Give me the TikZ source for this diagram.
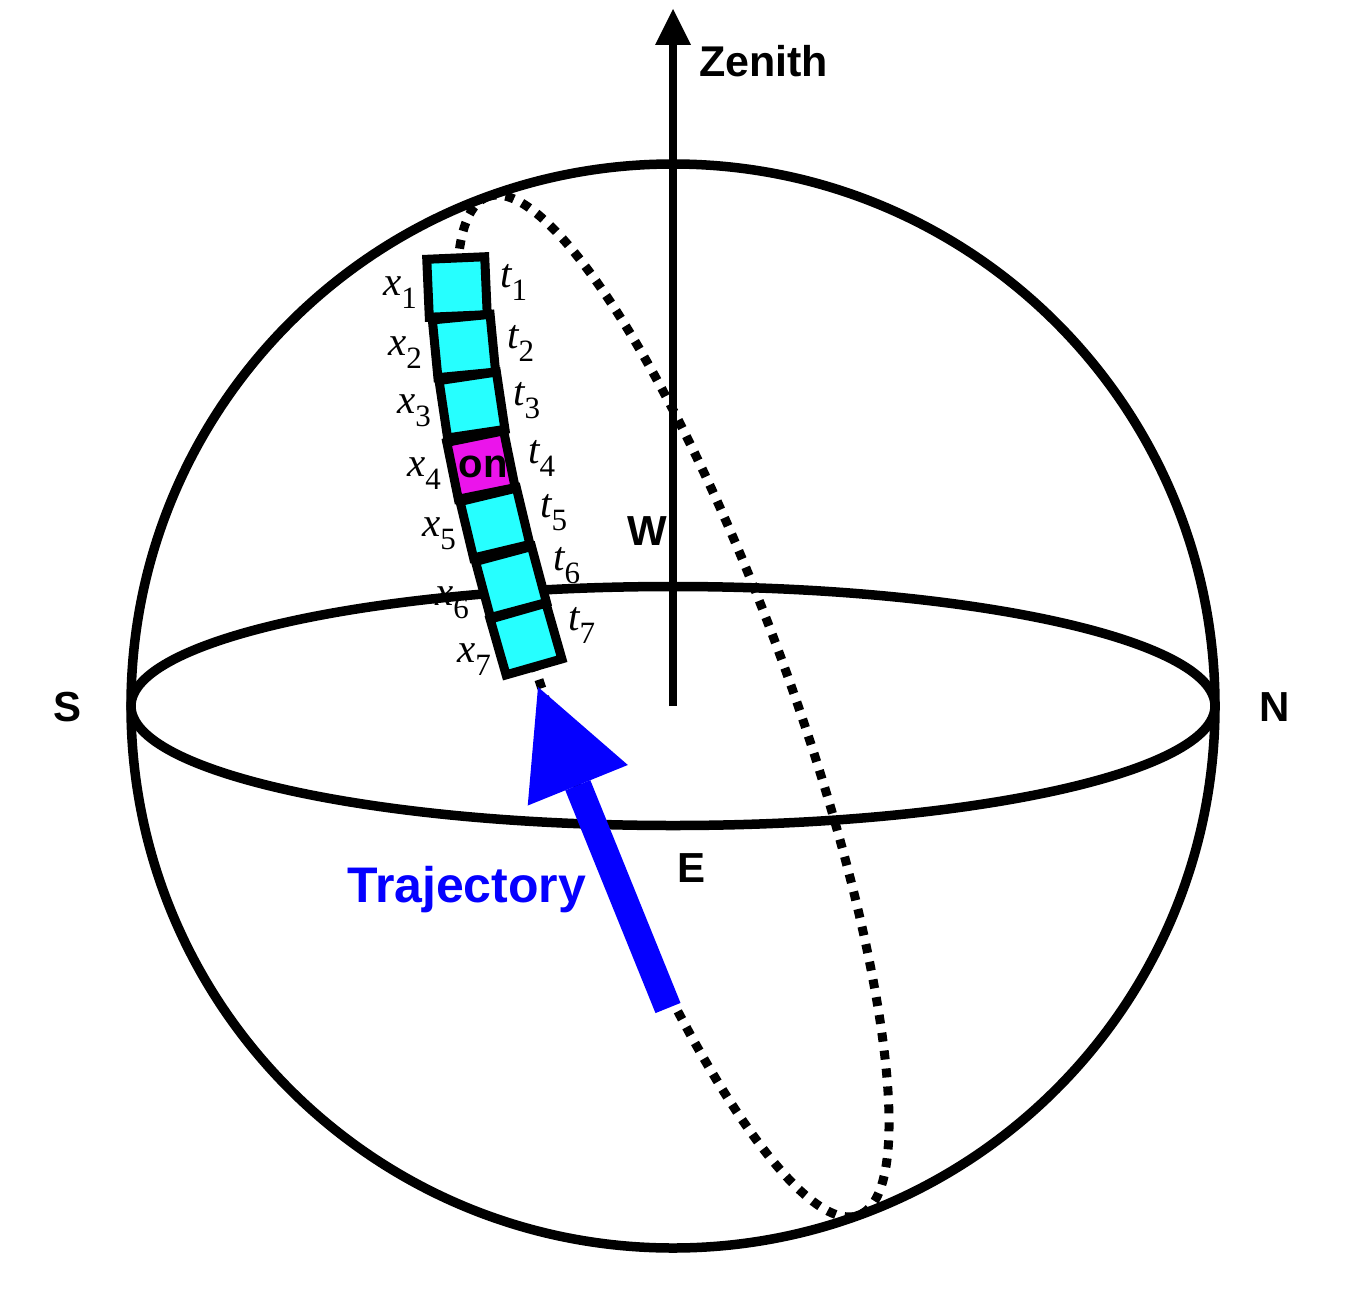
\documentclass[tikz,border=0pt]{standalone}
\usepackage{fontspec}
\setmainfont{Liberation Serif}
\setsansfont{Liberation Sans}
\usetikzlibrary{arrows.meta}
\definecolor{boxcyan}{RGB}{38,255,255}
\definecolor{boxmag}{RGB}{235,20,235}
\definecolor{trajblue}{RGB}{5,0,255}
\newcommand\mysub[2]{#1\raisebox{-13pt}{\fontsize{31}{31}\selectfont\upshape #2}}
\begin{document}
\begin{tikzpicture}[x=1pt,y=-1pt,
  thickline/.style={line width=9.5pt},
  dots/.style={line width=9pt, dash pattern=on 9pt off 9pt},
  cell/.style={draw, line width=9pt, minimum width=58pt, minimum height=58pt, inner sep=0pt, fill=boxcyan},
  lab/.style={font=\fontsize{41}{41}\selectfont\itshape, inner sep=0pt, anchor=base west},
  dir/.style={font=\fontsize{42}{42}\selectfont\sffamily\bfseries, inner sep=0pt},
]
\useasboundingbox (0,0) rectangle (1354,1290);
\coordinate (C) at (673,706);
% sphere and equator
\draw[thickline] (C) circle (542);
\draw[thickline] (C) ellipse (542 and 119.5);
% tilted great circle (dotted)
\begin{scope}[shift={(C)}, rotate=110]
  \draw[dots] (0,0) ellipse (542 and 118);
\end{scope}
% zenith
\coordinate (Ztip) at (673,9);
\draw[line width=8.5pt, -{Triangle[width=36pt,length=36pt,line width=0pt]}] (C) -- (Ztip);
\node[dir, anchor=base west, font=\fontsize{43}{43}\selectfont\sffamily\bfseries] (zlab) at (699,77) {Zenith};
% cells
\node[cell, rotate=2.5]  (b1) at (457,287) {};
\node[cell, rotate=5.5]  (b2) at (464,346) {};
\node[cell, rotate=8.5]  (b3) at (472,405) {};
\node[cell, rotate=11.5, fill=boxmag] (b4) at (481,465) {};
\node[cell, rotate=13.5] (b5) at (495,523) {};
\node[cell, rotate=15]   (b6) at (511,582) {};
\node[cell, rotate=16]   (b7) at (526,639) {};
\node[font=\fontsize{40}{40}\selectfont\sffamily\bfseries, inner sep=0pt] (ontext) at (483,467) {on};
% labels
\node[lab] (x1) at (383,295) {\mysub{x}{1}};
\node[lab] (x2) at (388,355) {\mysub{x}{2}};
\node[lab] (x3) at (397,413) {\mysub{x}{3}};
\node[lab] (x4) at (407,476) {\mysub{x}{4}};
\node[lab] (x5) at (422,536) {\mysub{x}{5}};
\node[lab] (x6) at (435,605) {\mysub{x}{6}};
\node[lab] (x7) at (457,662) {\mysub{x}{7}};
\node[lab] (t1) at (500,287) {\mysub{t}{1}};
\node[lab] (t2) at (507,348) {\mysub{t}{2}};
\node[lab] (t3) at (513,405) {\mysub{t}{3}};
\node[lab] (t4) at (528,463) {\mysub{t}{4}};
\node[lab] (t5) at (540,517) {\mysub{t}{5}};
\node[lab] (t6) at (553,570) {\mysub{t}{6}};
\node[lab] (t7) at (568,630) {\mysub{t}{7}};
% directions
\node[dir] (S) at (68,707) {S};
\node[dir] (N) at (1275,707) {N};
\node[dir] (W) at (647,531) {W};
\node[dir] (E) at (691,868) {E};
% trajectory
\coordinate (Tstart) at (668,1008);
\coordinate (Ttip) at (538,687);
\draw[trajblue, line width=27pt, -{Triangle[width=108pt,length=106pt,line width=0pt]}] (Tstart) -- (Ttip);
\node[font=\fontsize{50}{50}\selectfont\sffamily\bfseries, text=trajblue, anchor=base west, inner sep=0pt] (tlab) at (347,902) {Trajectory};
\end{tikzpicture}
\end{document}
